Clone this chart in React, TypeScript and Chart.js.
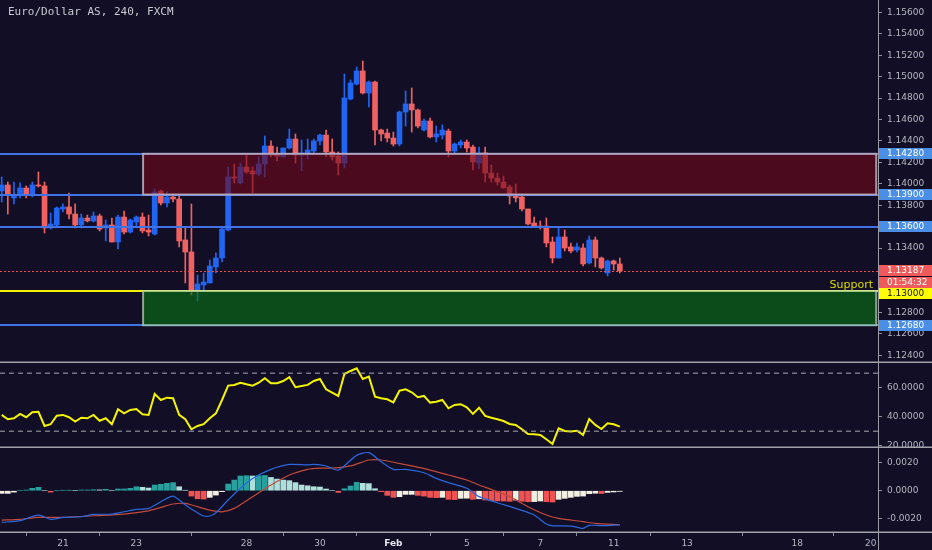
import { useEffect, useRef } from "react";
import { Chart, registerables } from "chart.js";

Chart.register(...registerables);

// ---------------- data ----------------
const TITLE = "Euro/Dollar AS, 240, FXCM";

const opens = [
  1.13933, 1.13989, 1.13868, 1.13896, 1.13961, 1.13896, 1.13989, 1.1398, 1.13588, 1.13616,
  1.13765, 1.13784, 1.13718, 1.13616, 1.13681, 1.13653, 1.137, 1.13588, 1.13616, 1.13457,
  1.1369, 1.1355, 1.13644, 1.1369, 1.13569, 1.13532, 1.13933, 1.13821, 1.13877, 1.13858,
  1.13476, 1.13364, 1.13009, 1.13056, 1.13075, 1.13224, 1.13308, 1.13569, 1.14064, 1.14008,
  1.14157, 1.1412, 1.14092, 1.14185, 1.14353, 1.14278, 1.1425, 1.14334, 1.14418, 1.14269,
  1.14288, 1.14306, 1.144, 1.14455, 1.14297, 1.1426, 1.14194, 1.14791, 1.14931, 1.15053,
  1.14847, 1.1495, 1.14502, 1.14474, 1.14427, 1.14371, 1.1467, 1.14745, 1.14689, 1.14502,
  1.14586, 1.14437, 1.14455, 1.14493, 1.14306, 1.14362, 1.1439, 1.14343, 1.14194, 1.14288,
  1.14101, 1.14054, 1.14017, 1.1397, 1.13886, 1.13877, 1.13765, 1.13634, 1.13606, 1.13606,
  1.13457, 1.13308, 1.13504, 1.13411, 1.13383, 1.13401, 1.13261, 1.13476, 1.13308, 1.13168,
  1.1328, 1.13252,
];
const highs = [
  1.14064, 1.14017, 1.14017, 1.14008, 1.1398, 1.14017, 1.1411, 1.14017, 1.13728, 1.13784,
  1.13812, 1.13914, 1.13812, 1.13718, 1.13709, 1.13737, 1.13718, 1.13662, 1.13681, 1.13709,
  1.13746, 1.13672, 1.137, 1.13728, 1.13709, 1.13952, 1.13942, 1.13924, 1.13905, 1.13886,
  1.13597, 1.13812, 1.13149, 1.13168, 1.13289, 1.13355, 1.13588, 1.14157, 1.14185, 1.14194,
  1.14269, 1.14157, 1.1425, 1.14446, 1.144, 1.14343, 1.14334, 1.14511, 1.14465, 1.14409,
  1.14418, 1.14418, 1.14465, 1.14502, 1.14418, 1.14297, 1.15025, 1.14969, 1.1509, 1.15146,
  1.14959, 1.14959, 1.14511, 1.14511, 1.14483, 1.14679, 1.14866, 1.14894, 1.14698, 1.14605,
  1.14614, 1.14539, 1.14549, 1.14511, 1.14381, 1.14409, 1.14409, 1.14362, 1.14343, 1.14343,
  1.14176, 1.14101, 1.14073, 1.13989, 1.13998, 1.13905, 1.13765, 1.1369, 1.13653, 1.13681,
  1.13504, 1.13597, 1.13569, 1.13448, 1.13448, 1.13439, 1.13513, 1.13504, 1.13317, 1.13289,
  1.13289, 1.13308,
];
const lows = [
  1.1383, 1.13718, 1.13812, 1.13868, 1.13868, 1.13877, 1.1397, 1.13541, 1.13578, 1.13606,
  1.13737, 1.13672, 1.13588, 1.13588, 1.13644, 1.13644, 1.1356, 1.13467, 1.13457, 1.13392,
  1.13532, 1.13541, 1.13588, 1.13541, 1.13513, 1.13522, 1.13802, 1.13784, 1.1383, 1.13411,
  1.13075, 1.12963, 1.12907, 1.13009, 1.13075, 1.13168, 1.13271, 1.1356, 1.14008, 1.13998,
  1.14101, 1.13914, 1.14073, 1.14064, 1.1425, 1.14213, 1.1425, 1.14325, 1.14194, 1.1412,
  1.14232, 1.14288, 1.14362, 1.1425, 1.14222, 1.14082, 1.14148, 1.14782, 1.14922, 1.14838,
  1.14717, 1.14362, 1.144, 1.1439, 1.14353, 1.14353, 1.14539, 1.14483, 1.14521, 1.14493,
  1.14427, 1.1439, 1.14418, 1.1425, 1.14278, 1.14334, 1.14297, 1.14129, 1.14138, 1.14017,
  1.14017, 1.13989, 1.13961, 1.13812, 1.1383, 1.13746, 1.13616, 1.13597, 1.13578, 1.13411,
  1.13261, 1.13308, 1.13373, 1.13355, 1.13364, 1.13233, 1.13252, 1.13224, 1.13205, 1.1314,
  1.13196, 1.13168,
];
const closes = [
  1.13989, 1.13905, 1.13896, 1.13961, 1.13905, 1.13989, 1.1398, 1.13588, 1.13625, 1.13774,
  1.13784, 1.13718, 1.13616, 1.13681, 1.13653, 1.137, 1.13578, 1.13616, 1.13457, 1.1369,
  1.1355, 1.13662, 1.1369, 1.1356, 1.1355, 1.13924, 1.13821, 1.13877, 1.13858, 1.13467,
  1.13364, 1.13, 1.13065, 1.13084, 1.13233, 1.13308, 1.13578, 1.14064, 1.14054, 1.14157,
  1.1411, 1.14092, 1.14185, 1.14353, 1.14269, 1.1426, 1.14334, 1.14418, 1.14269, 1.14288,
  1.14316, 1.144, 1.14455, 1.14297, 1.1425, 1.14194, 1.14801, 1.14941, 1.15053, 1.14847,
  1.1495, 1.14502, 1.14465, 1.14427, 1.14371, 1.1467, 1.14745, 1.14689, 1.14539, 1.14586,
  1.14437, 1.14465, 1.14502, 1.14306, 1.14371, 1.1439, 1.14334, 1.14204, 1.14288, 1.14101,
  1.14054, 1.14017, 1.13961, 1.13886, 1.13868, 1.13765, 1.13625, 1.13606, 1.13597, 1.13448,
  1.13308, 1.13504, 1.13401, 1.13373, 1.13411, 1.13252, 1.13476, 1.13308, 1.13215, 1.1328,
  1.13252, 1.13187,
];

const rsiValues = [
  41.2, 38.2, 38.9, 41.9, 39.6, 43.0, 43.4, 33.6, 34.8, 40.7,
  41.2, 39.6, 36.6, 39.3, 38.9, 41.2, 37.2, 38.9, 34.8, 45.1,
  42.3, 44.6, 45.3, 41.6, 41.2, 55.7, 51.5, 53.1, 52.7, 41.2,
  38.2, 31.3, 33.6, 34.8, 38.9, 42.3, 51.5, 61.4, 61.9, 63.4,
  62.3, 61.4, 63.4, 66.5, 63.0, 63.0, 64.6, 67.2, 60.3, 61.2,
  61.9, 64.6, 66.0, 58.9, 56.6, 54.3, 69.4, 71.5, 73.4, 66.0,
  67.6, 53.8, 52.7, 52.0, 49.9, 57.9, 58.9, 56.8, 53.4, 54.3,
  49.7, 50.3, 51.5, 45.8, 48.1, 48.6, 46.5, 41.9, 46.2, 40.5,
  39.3, 38.2, 37.0, 35.0, 34.3, 31.3, 28.1, 27.9, 27.4, 24.4,
  21.2, 32.0, 30.1, 29.7, 30.3, 27.4, 38.4, 34.3, 31.5, 35.4,
  34.8, 33.1,
];
const rsiBands = [70, 30];
const rsiTicks = [60, 40, 20];

// MACD line and signal line read at [candle index, value]
const macdPoints: [number, number][] = [
  [0, -0.00224], [3, -0.00212], [6, -0.00172], [8, -0.00203], [10, -0.00189], [13, -0.00184],
  [15, -0.00168], [18, -0.00165], [20, -0.00149], [22, -0.00132], [24, -0.00125], [26, -0.00078],
  [28, -0.00038], [30, -0.00101], [32, -0.00156], [33, -0.00179], [34, -0.00179], [35, -0.00156],
  [37, -0.00066], [39, 0.00017], [41, 0.00087], [44, 0.00151], [47, 0.00186], [50, 0.00182],
  [51, 0.00186], [53, 0.00175], [55, 0.00146], [58, 0.0025], [60, 0.00269], [62, 0.00205],
  [64, 0.00151], [66, 0.00151], [69, 0.00127], [71, 0.00087], [73, 0.00057], [76, 0.00017],
  [78, -0.00042], [81, -0.00085], [84, -0.00125], [87, -0.00172], [89, -0.00236], [90, -0.00248],
  [93, -0.0025], [95, -0.00267], [96, -0.00245], [98, -0.00247], [101, -0.00241],
];
const signalPoints: [number, number][] = [
  [0, -0.00208], [3, -0.00203], [6, -0.00189], [10, -0.00189], [15, -0.00177], [20, -0.00165],
  [24, -0.00142], [26, -0.00118], [28, -0.00094], [30, -0.0009], [32, -0.00113], [34, -0.00137],
  [36, -0.00149], [38, -0.00125], [41, -0.00042], [44, 0.0004], [47, 0.00111], [50, 0.00151],
  [52, 0.0016], [54, 0.0016], [57, 0.00175], [60, 0.00217], [62, 0.00217], [64, 0.00201],
  [67, 0.00175], [70, 0.00146], [73, 0.00111], [76, 0.00076], [78, 0.0004], [80, 0.00009],
  [83, -0.00042], [86, -0.00113], [89, -0.00172], [91, -0.00196], [95, -0.00219], [97, -0.00231],
  [101, -0.00241],
];
const histValues = [
  -0.00019, -0.00019, -0.0001, 0, 0.00005, 0.00017, 0.00024, 0, -0.0001, 0,
  0.00003, 0.00003, 0, 0.00005, 0.00005, 0.00007, 0.00006, 0.0001, 0, 0.00012,
  0.00012, 0.00017, 0.00028, 0.00024, 0.00019, 0.0004, 0.00045, 0.00052, 0.00057, 0.00028,
  0.00003, -0.00038, -0.00057, -0.00059, -0.00047, -0.00031, -0.00007, 0.00047, 0.00075, 0.00104,
  0.00106, 0.00104, 0.00106, 0.00108, 0.00094, 0.00082, 0.00075, 0.00071, 0.00057, 0.0004,
  0.00035, 0.00028, 0.00026, 0.00012, 0, -0.00012, 0.00014, 0.00033, 0.00059, 0.00052,
  0.0005, 0.00014, -0.00007, -0.00033, -0.00047, -0.00042, -0.00026, -0.00026, -0.00033, -0.00038,
  -0.00047, -0.00049, -0.00047, -0.00061, -0.00063, -0.00054, -0.00053, -0.00061, -0.00057, -0.00066,
  -0.00071, -0.00072, -0.00073, -0.00075, -0.00066, -0.00075, -0.00078, -0.00077, -0.00073, -0.00078,
  -0.0008, -0.00061, -0.00054, -0.00047, -0.0004, -0.00038, -0.00021, -0.00018, -0.0002, -0.00012,
  -0.00009, -0.00005,
];
const macdTicks = [0.002, 0, -0.002];

const priceTicks = [
  1.156, 1.154, 1.152, 1.15, 1.148, 1.146, 1.144, 1.142, 1.14, 1.138,
  1.136, 1.134, 1.132, 1.13, 1.128, 1.126, 1.124,
];
const dayTickIdx = [10, 22, 40, 52, 64, 76, 88, 100, 112, 130, 142];
const dayTickLabels = ["21", "23", "28", "30", "Feb", "5", "7", "11", "13", "18", "20"];

const zoneTops = [1.1428, 1.13];
const zoneBottoms = [1.139, 1.1268];
const zoneStartIdx = [23.1, 23.1];
const zoneEndIdx = [142.9, 142.9];

const levelPrices = [1.1428, 1.139, 1.136, 1.13, 1.1268];
const supportPrice = 1.13;
const supportLabel = "Support";
const lastPrice = 1.13187;
const countdown = "01:54:32";

// ---------------- layout & style ----------------
const W = 932;
const AXIS_W = 54;
const MAIN_H = 363;
const RSI_H = 85;
const MACD_H = 102;
const X_AXIS_H = 18;
const X_MIN = -0.278;
const X_MAX = 143.19;
const P_MIN = 1.12328;
const P_MAX = 1.15715;
const RSI_MIN = 18.4;
const RSI_MAX = 77;
const MACD_MIN = -0.00292;
const MACD_MAX = 0.00302;

const BG = "#110e26";
const AXIS_TEXT = "#b6b6c0";
const TICK_COLOR = "#8e8e9a";
const AXIS_LINE = "#9c9ca6";
const SEP = "#a2a2ac";
const UP = "#2166f2";
const DOWN = "#f06262";
const LEVEL_BLUE = "#3f73e6";
const FONT = "'DejaVu Sans', sans-serif";

const candleColor = (i: number) => (closes[i] >= opens[i] ? UP : DOWN);
const histColor = (i: number) => {
  const v = histValues[i];
  const p = i > 0 ? histValues[i - 1] : v;
  if (v >= 0) return v >= p ? "#2aa09e" : "#b0dedb";
  return v < p ? "#ef5252" : "#f1efe2";
};

const yAxis = (min: number, max: number, ticks: number[], decimals: number) => ({
  position: "right",
  min,
  max,
  afterFit: (s: any) => {
    s.width = AXIS_W;
    s.paddingTop = 0;
    s.paddingBottom = 0;
  },
  afterBuildTicks: (s: any) => {
    s.ticks = ticks.map((v) => ({ value: v }));
  },
  ticks: {
    callback: (v: any) => Number(v).toFixed(decimals),
    color: AXIS_TEXT,
    font: { family: FONT, size: 9 },
    padding: 5,
    autoSkip: false,
  },
  grid: { drawOnChartArea: false, drawTicks: true, tickLength: 4, color: TICK_COLOR },
  border: { display: true, color: AXIS_LINE, width: 1 },
});

const hiddenX = () => ({ type: "linear", min: X_MIN, max: X_MAX, offset: false, display: false });

const bgPlugin = {
  id: "bg",
  beforeDraw(chart: any) {
    const { ctx, width, height } = chart;
    ctx.save();
    ctx.fillStyle = BG;
    ctx.fillRect(0, 0, width, height);
    ctx.restore();
  },
};

const separatorPlugin = (atCanvasBottom: boolean) => ({
  id: "sep",
  afterDraw(chart: any) {
    const { ctx, width, height, chartArea: ca } = chart;
    ctx.save();
    ctx.strokeStyle = SEP;
    ctx.lineWidth = 1.5;
    const yy = atCanvasBottom ? height - 0.75 : ca.bottom + 0.25;
    ctx.beginPath();
    ctx.moveTo(0, yy);
    ctx.lineTo(width, yy);
    ctx.stroke();
    if (!atCanvasBottom) {
      ctx.strokeStyle = AXIS_LINE;
      ctx.lineWidth = 1;
      ctx.beginPath();
      ctx.moveTo(Math.round(ca.right) + 0.5, ca.bottom);
      ctx.lineTo(Math.round(ca.right) + 0.5, height);
      ctx.stroke();
    }
    ctx.restore();
  },
});

const drawTag = (ctx: any, left: number, y: number, text: string, bg: string, fg: string) => {
  const h = 11;
  ctx.fillStyle = bg;
  ctx.fillRect(left + 1, Math.round(y - h / 2), W - left - 1, h);
  ctx.fillStyle = fg;
  ctx.font = `9px ${FONT}`;
  ctx.textAlign = "left";
  ctx.textBaseline = "middle";
  ctx.fillText(text, left + 9, Math.round(y - h / 2) + h / 2 + 0.5);
};

const mainOverlay = {
  id: "mainOverlay",
  afterDatasetsDraw(chart: any) {
    const { ctx, chartArea: ca } = chart;
    const x = chart.scales.x;
    const y = chart.scales.y;
    ctx.save();
    ctx.beginPath();
    ctx.rect(ca.left, ca.top, ca.right - ca.left, ca.bottom - ca.top);
    ctx.clip();
    // horizontal levels
    levelPrices.forEach((p) => {
      const sup = p === supportPrice;
      const yy = Math.round(y.getPixelForValue(p));
      ctx.strokeStyle = sup ? "#f2f200" : LEVEL_BLUE;
      ctx.lineWidth = 2;
      ctx.beginPath();
      ctx.moveTo(ca.left, yy);
      ctx.lineTo(ca.right, yy);
      ctx.stroke();
    });
    // zones
    zoneTops.forEach((top, k) => {
      const x0 = x.getPixelForValue(zoneStartIdx[k]);
      const x1 = x.getPixelForValue(zoneEndIdx[k]);
      const y0 = y.getPixelForValue(top);
      const y1 = y.getPixelForValue(zoneBottoms[k]);
      const isSupport = top <= supportPrice;
      ctx.fillStyle = isSupport ? "rgba(10,115,20,0.62)" : "rgba(112,8,26,0.62)";
      ctx.fillRect(x0, y0, x1 - x0, y1 - y0);
      ctx.strokeStyle = isSupport ? "rgba(190,215,190,0.7)" : "rgba(205,190,198,0.78)";
      ctx.lineWidth = 2;
      ctx.strokeRect(x0, y0, x1 - x0, y1 - y0);
    });
    // last price dotted line
    const ly = Math.round(y.getPixelForValue(lastPrice)) + 0.5;
    ctx.setLineDash([2, 2]);
    ctx.strokeStyle = "#f24c4c";
    ctx.lineWidth = 1;
    ctx.beginPath();
    ctx.moveTo(ca.left, ly);
    ctx.lineTo(ca.right, ly);
    ctx.stroke();
    ctx.setLineDash([]);
    ctx.fillStyle = "#dada00";
    ctx.font = `11px ${FONT}`;
    ctx.textAlign = "right";
    ctx.textBaseline = "alphabetic";
    ctx.fillText(supportLabel, ca.right - 5, y.getPixelForValue(supportPrice) - 3);
    ctx.restore();
  },
  afterDraw(chart: any) {
    const { ctx, chartArea: ca } = chart;
    const y = chart.scales.y;
    ctx.save();
    levelPrices.forEach((p) => {
      if (p === supportPrice) return;
      drawTag(ctx, ca.right, y.getPixelForValue(p), p.toFixed(5), "#4a8ee6", "#ffffff");
    });
    const lastY = y.getPixelForValue(lastPrice);
    drawTag(ctx, ca.right, lastY, lastPrice.toFixed(5), "#f05a5a", "#ffffff");
    const cdY = lastY + 12;
    drawTag(ctx, ca.right, cdY, countdown, "#f05a5a", "#ffffff");
    const supY = Math.max(y.getPixelForValue(supportPrice), cdY + 11);
    drawTag(ctx, ca.right, supY, supportPrice.toFixed(5), "#ffff00", "#111111");
    ctx.restore();
  },
};

export default function App() {
  const mainRef = useRef<HTMLCanvasElement>(null);
  const rsiRef = useRef<HTMLCanvasElement>(null);
  const macdRef = useRef<HTMLCanvasElement>(null);

  useEffect(() => {
    const idx = opens.map((_, i) => i);
    const common: any = {
      responsive: false,
      maintainAspectRatio: false,
      animation: false,
      events: [],
      layout: { padding: 0 },
      plugins: { legend: { display: false }, tooltip: { enabled: false } },
    };

    const main = new Chart(mainRef.current as HTMLCanvasElement, {
      type: "bar",
      data: {
        datasets: [
          {
            type: "bar",
            data: idx.map((i) => ({ x: i, y: [lows[i], highs[i]] })),
            backgroundColor: (c: any) => candleColor(c.dataIndex),
            barThickness: 1,
            maxBarThickness: 1,
            grouped: false,
            order: 2,
          } as any,
          {
            type: "bar",
            data: idx.map((i) => ({ x: i, y: [opens[i], closes[i]] })),
            backgroundColor: (c: any) => candleColor(c.dataIndex),
            barThickness: 5,
            maxBarThickness: 5,
            minBarLength: 1,
            grouped: false,
            order: 1,
          } as any,
        ],
      },
      options: {
        ...common,
        scales: { x: hiddenX(), y: yAxis(P_MIN, P_MAX, priceTicks, 5) },
      } as any,
      plugins: [bgPlugin, mainOverlay, separatorPlugin(true)],
    });

    const rsi = new Chart(rsiRef.current as HTMLCanvasElement, {
      type: "line",
      data: {
        datasets: [
          ...rsiBands.map((b) => ({
            data: [
              { x: X_MIN, y: b },
              { x: X_MAX, y: b },
            ],
            borderColor: "#a9a9b3",
            borderWidth: 1,
            borderDash: [5, 4],
            pointRadius: 0,
          })),
          {
            data: rsiValues.map((v, i) => ({ x: i, y: v })),
            borderColor: "#f5f500",
            borderWidth: 2,
            pointRadius: 0,
            tension: 0,
          },
        ] as any,
      },
      options: {
        ...common,
        scales: { x: hiddenX(), y: yAxis(RSI_MIN, RSI_MAX, rsiTicks, 4) },
      } as any,
      plugins: [bgPlugin, separatorPlugin(true)],
    });

    const macd = new Chart(macdRef.current as HTMLCanvasElement, {
      type: "bar",
      data: {
        datasets: [
          {
            type: "line",
            data: macdPoints.map(([x, y]) => ({ x, y })),
            borderColor: "#2a68dc",
            borderWidth: 1.2,
            pointRadius: 0,
            tension: 0.25,
            order: 1,
          } as any,
          {
            type: "line",
            data: signalPoints.map(([x, y]) => ({ x, y })),
            borderColor: "#c44a3a",
            borderWidth: 1.2,
            pointRadius: 0,
            tension: 0.25,
            order: 2,
          } as any,
          {
            type: "bar",
            data: histValues.map((v, i) => ({ x: i, y: v })),
            backgroundColor: (c: any) => histColor(c.dataIndex),
            barThickness: 5,
            maxBarThickness: 5,
            grouped: false,
            order: 3,
          } as any,
        ],
      },
      options: {
        ...common,
        scales: {
          x: {
            type: "linear",
            min: X_MIN,
            max: X_MAX,
            offset: false,
            position: "bottom",
            afterFit: (s: any) => {
              s.height = X_AXIS_H;
              s.paddingLeft = 0;
              s.paddingRight = 0;
            },
            afterBuildTicks: (s: any) => {
              s.ticks = dayTickIdx.map((v) => ({ value: v }));
            },
            ticks: {
              callback: (_v: any, i: number) => dayTickLabels[i],
              color: (c: any) => (c.tick && c.tick.label === "Feb" ? "#e6e6ee" : AXIS_TEXT),
              font: (c: any) => ({
                family: FONT,
                size: 9,
                weight: c.tick && c.tick.label === "Feb" ? "bold" : "normal",
              }),
              maxRotation: 0,
              autoSkip: false,
              padding: 2,
            },
            grid: { drawOnChartArea: false, drawTicks: true, tickLength: 4, color: TICK_COLOR },
            border: { display: false },
          },
          y: yAxis(MACD_MIN, MACD_MAX, macdTicks, 4),
        },
      } as any,
      plugins: [bgPlugin, separatorPlugin(false)],
    });

    return () => {
      main.destroy();
      rsi.destroy();
      macd.destroy();
    };
  }, []);

  return (
    <div
      style={{
        position: "absolute",
        left: 0,
        top: 0,
        width: W,
        height: MAIN_H + RSI_H + MACD_H,
        background: BG,
        overflow: "hidden",
      }}
    >
      <canvas
        ref={mainRef}
        width={W}
        height={MAIN_H}
        style={{ position: "absolute", left: 0, top: 0, width: W, height: MAIN_H }}
      />
      <canvas
        ref={rsiRef}
        width={W}
        height={RSI_H}
        style={{ position: "absolute", left: 0, top: MAIN_H, width: W, height: RSI_H }}
      />
      <canvas
        ref={macdRef}
        width={W}
        height={MACD_H}
        style={{ position: "absolute", left: 0, top: MAIN_H + RSI_H, width: W, height: MACD_H }}
      />
      <div
        style={{
          position: "absolute",
          left: 8,
          top: 5,
          font: "11px 'DejaVu Sans Mono', monospace",
          lineHeight: "14px",
          color: "#c9c9d2",
          whiteSpace: "nowrap",
          pointerEvents: "none",
        }}
      >
        {TITLE}
      </div>
    </div>
  );
}
